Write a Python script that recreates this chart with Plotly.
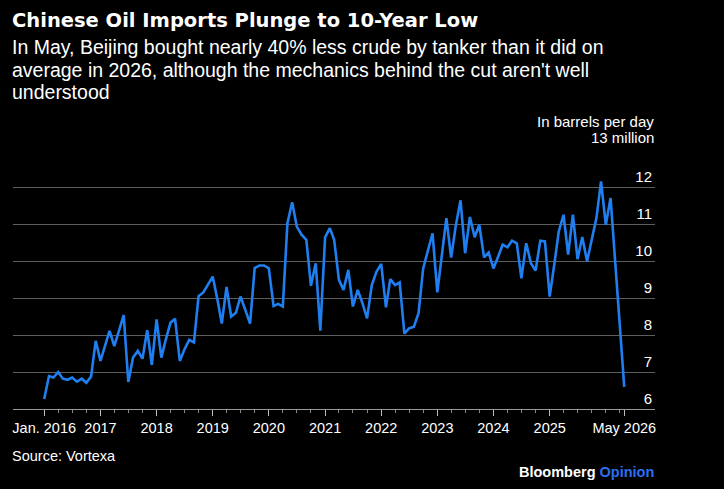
import pandas as pd
import plotly.graph_objects as go

# ---- data (million barrels per day, monthly, Jan 2016 - May 2026) ----
months = pd.date_range("2016-01-01", periods=125, freq="MS")
imports_mbpd = [
    6.27, 6.89, 6.85, 7.00, 6.82, 6.79, 6.85, 6.74, 6.82, 6.71, 6.88, 7.84,   # 2016
    7.30, 7.70, 8.11, 7.70, 8.10, 8.54, 6.73, 7.39, 7.57, 7.36, 8.13, 7.19,   # 2017
    8.42, 7.39, 7.86, 8.33, 8.44, 7.30, 7.61, 7.87, 7.80, 9.05, 9.15, 9.35,   # 2018
    9.58, 8.95, 8.31, 9.30, 8.50, 8.60, 9.04, 8.68, 8.31, 9.81, 9.88, 9.88,   # 2019
    9.80, 8.78, 8.84, 8.77, 11.02, 11.59, 10.93, 10.71, 10.57, 9.33, 9.94, 8.12,  # 2020
    10.64, 10.89, 10.57, 9.49, 9.22, 9.76, 8.77, 9.22, 8.86, 8.45, 9.35, 9.71,  # 2021
    9.92, 8.75, 9.51, 9.35, 9.42, 8.04, 8.18, 8.22, 8.59, 9.80, 10.30, 10.75,  # 2022
    9.15, 10.30, 11.16, 10.09, 10.95, 11.64, 10.21, 11.19, 10.64, 10.98, 10.10, 10.23,  # 2023
    9.80, 10.12, 10.44, 10.37, 10.55, 10.48, 9.53, 10.48, 9.94, 9.74, 10.55, 10.53,  # 2024
    9.04, 9.94, 10.80, 11.25, 10.17, 11.25, 10.05, 10.65, 9.99, 10.57, 11.16, 12.15,  # 2025
    10.98, 11.70, 10.10, 8.35, 6.60,  # 2026
]

x_tick_dates = ["2016-01-01", "2017-01-01", "2018-01-01", "2019-01-01", "2020-01-01",
                "2021-01-01", "2022-01-01", "2023-01-01", "2024-01-01", "2025-01-01",
                "2026-05-01"]
x_tick_labels = ["Jan. 2016", "2017", "2018", "2019", "2020", "2021", "2022",
                 "2023", "2024", "2025", "May 2026"]
minor_tick_dates = list(pd.date_range("2016-01-01", "2026-04-01", freq="QS"))

y_tick_vals = [6, 7, 8, 9, 10, 11, 12, 13]
y_tick_labels = ["6", "7", "8", "9", "10", "11", "12", ""]
y_top_label = "13 million"

title_text = "Chinese Oil Imports Plunge to 10-Year Low"
subtitle_lines = [
    "In May, Beijing bought nearly 40% less crude by tanker than it did on",
    "average in 2026, although the mechanics behind the cut aren't well",
    "understood",
]
unit_text = "In barrels per day"
source_text = "Source: Vortexa"

# ---- layout geometry ----
W, H = 724, 489
L, R, T, B = 13, 69, 149, 80
PW, PH = W - L - R, H - T - B
Y_MIN, Y_MAX = 6, 13 + 1 / 37.0

def px_x(x):
    return (x - L) / PW

def px_y(y):
    return (H - B - y) / PH

TXT = "Liberation Sans, Arial, sans-serif"
BOLD = "DejaVu Sans, Verdana, sans-serif"
BLUE = "#1f7ff0"

fig = go.Figure()
fig.add_trace(go.Scatter(
    x=months, y=imports_mbpd, mode="lines",
    line=dict(color=BLUE, width=2.6),
    hoverinfo="skip", showlegend=False,
))

annotations = [
    dict(text="<b>" + title_text + "</b>", x=px_x(11), y=px_y(20),
         font=dict(family=BOLD, size=19.5, color="white")),
]
for i, line in enumerate(subtitle_lines):
    annotations.append(dict(text=line, x=px_x(11), y=px_y(47 + 22.5 * i),
                            font=dict(family=TXT, size=19.5, color="white")))
annotations.append(dict(text=source_text, x=px_x(11), y=px_y(456),
                        font=dict(family=TXT, size=14.5, color="white")))
for a in annotations:
    a.update(xref="paper", yref="paper", xanchor="left", yanchor="middle",
             showarrow=False, borderpad=0)

for txt, yy in [(unit_text, 122), (y_top_label, 138)]:
    annotations.append(dict(text=txt, x=1, y=px_y(yy), xref="paper", yref="paper",
                            xanchor="right", yanchor="middle", showarrow=False,
                            borderpad=0,
                            font=dict(family=TXT, size=15, color="white")))
annotations.append(dict(text="<b>Bloomberg <span style='color:#2a6ff0'>Opinion</span></b>",
                        x=1, y=px_y(472), xref="paper", yref="paper",
                        xanchor="right", yanchor="middle", showarrow=False, borderpad=0,
                        font=dict(family=TXT, size=14.5, color="white")))

fig.update_layout(
    width=W, height=H,
    margin=dict(l=L, r=R, t=T, b=B, pad=0),
    paper_bgcolor="black", plot_bgcolor="black",
    annotations=annotations,
    xaxis=dict(
        type="date", range=["2015-06-12", "2026-11-17"],
        tickmode="array", tickvals=x_tick_dates, ticktext=x_tick_labels,
        ticks="outside", ticklen=6, tickcolor="#bbbbbb", tickwidth=1,
        minor=dict(tickmode="array", tickvals=minor_tick_dates, ticks="outside",
                   ticklen=3, tickcolor="#888888", showgrid=False),
        showgrid=False, zeroline=False,
        showline=True, linecolor="#999999", linewidth=1,
        tickfont=dict(family=TXT, size=14.5, color="white"),
    ),
    yaxis=dict(
        range=[Y_MIN, Y_MAX], side="right",
        tickmode="array", tickvals=y_tick_vals, ticktext=y_tick_labels,
        ticklabelposition="inside top", ticks="",
        showgrid=True, gridcolor="#5e5e5e", gridwidth=1,
        zeroline=False, showline=False,
        tickfont=dict(family=TXT, size=15, color="white"),
    ),
)

fig.write_html("out.html")
